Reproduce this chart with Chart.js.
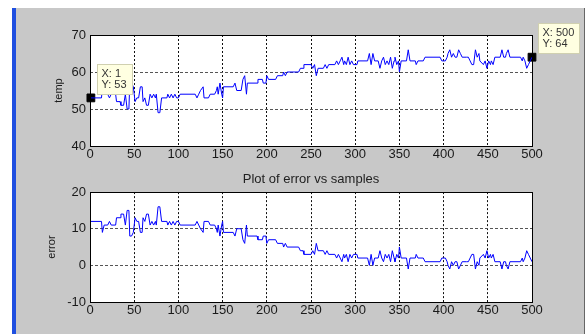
<!DOCTYPE html>
<html>
<head>
<meta charset="utf-8">
<script src="https://cdn.jsdelivr.net/npm/chart.js@4.4.0/dist/chart.umd.min.js"></script>
<style>
  html, body { margin: 0; padding: 0; background: #fff; }
  body { width: 586px; height: 334px; position: relative; overflow: hidden; }
  #figure { position: absolute; left: 16px; top: 8px; width: 568px; height: 326px; background: #c8c8c8; border-right: 1px solid #666; }
  #strip { position: absolute; left: 12px; top: 8px; width: 4px; height: 326px; background: #1f4fe0; }
  canvas { position: absolute; left: 0; }
  #topChart { top: 0; }
  #bottomChart { top: 165px; }
</style>
</head>
<body>
<div id="figure"></div>
<div id="strip"></div>
<canvas id="topChart" width="586" height="165"></canvas>
<canvas id="bottomChart" width="586" height="169"></canvas>
<script>
// MARK: Data
const samples = [
  1, 13, 14, 16, 20, 22, 24, 29, 30, 34,
  35, 38, 40, 42, 44, 45, 47, 49, 51, 53,
  55, 57, 59, 60, 62, 64, 66, 68, 70, 72,
  74, 75, 77, 79, 81, 87, 88, 90, 92, 94,
  96, 98, 100, 102, 119, 121, 123, 125, 128, 129,
  134, 136, 141, 143, 144, 145, 147, 149, 150, 151,
  162, 164, 166, 171, 173, 175, 177, 178, 189, 190,
  195, 196, 199, 200, 202, 210, 212, 218, 219, 221,
  223, 236, 238, 241, 242, 250, 252, 254, 256, 258,
  264, 266, 268, 270, 277, 279, 281, 283, 285, 287,
  288, 290, 292, 294, 296, 298, 302, 303, 314, 316,
  318, 320, 322, 326, 328, 330, 332, 334, 336, 338,
  340, 342, 344, 345, 347, 349, 350, 352, 358, 360,
  362, 368, 369, 371, 377, 379, 396, 398, 402, 404,
  405, 407, 409, 411, 413, 415, 417, 419, 421, 426,
  428, 430, 432, 434, 436, 438, 440, 441, 445, 447,
  449, 451, 453, 454, 456, 458, 464, 466, 468, 470,
  471, 473, 475, 487, 489, 490, 492, 494, 496, 498,
  500
];

const temp = [
  53, 53, 56, 54, 54, 53, 54, 54, 52, 52,
  51, 51, 54, 50, 50, 57, 57, 56, 52, 53,
  53, 56, 56, 52, 53, 51, 51, 54, 53, 54,
  53, 54, 49, 49, 53, 53, 54, 53, 54, 53,
  54, 53, 53, 54, 54, 53, 54, 55, 56, 53,
  53, 54, 54, 55, 56, 54, 57, 54, 53, 56,
  56, 57, 55, 55, 58, 59, 54, 57, 57, 58,
  58, 57, 57, 59, 58, 58, 59, 59, 60, 59,
  60, 60, 61, 61, 62, 62, 61, 62, 59, 61,
  61, 62, 61, 62, 62, 63, 62, 63, 64, 62,
  63, 62, 64, 62, 63, 62, 62, 63, 63, 65,
  62, 65, 63, 63, 61, 63, 64, 62, 63, 62,
  64, 61, 63, 64, 62, 63, 60, 63, 63, 66,
  63, 63, 62, 63, 63, 64, 64, 63, 63, 64,
  65, 66, 64, 65, 64, 64, 66, 65, 64, 64,
  64, 63, 62, 62, 66, 64, 65, 63, 62, 63,
  61, 63, 62, 63, 62, 64, 64, 66, 64, 64,
  65, 66, 64, 64, 63, 64, 63, 61, 62, 63,
  64
];

const error = [
  12, 12, 9, 11, 11, 12, 11, 11, 13, 13,
  14, 14, 11, 15, 15, 8, 8, 9, 13, 12,
  12, 9, 9, 13, 12, 14, 14, 11, 12, 11,
  12, 11, 16, 16, 12, 12, 11, 12, 11, 12,
  11, 12, 12, 11, 11, 12, 11, 10, 9, 12,
  12, 11, 11, 10, 9, 11, 8, 11, 12, 9,
  9, 8, 10, 10, 7, 6, 11, 8, 8, 7,
  7, 8, 8, 6, 7, 7, 6, 6, 5, 6,
  5, 5, 4, 4, 3, 3, 4, 3, 6, 4,
  4, 3, 4, 3, 3, 2, 3, 2, 1, 3,
  2, 3, 1, 3, 2, 3, 3, 2, 2, 0,
  3, 0, 2, 2, 4, 2, 1, 3, 2, 3,
  1, 4, 2, 1, 3, 2, 5, 2, 2, -1,
  2, 2, 3, 2, 2, 1, 1, 2, 2, 1,
  0, -1, 1, 0, 1, 1, -1, 0, 1, 1,
  1, 2, 3, 3, -1, 1, 0, 2, 3, 2,
  4, 2, 3, 2, 3, 1, 1, -1, 1, 1,
  0, -1, 1, 1, 2, 1, 2, 4, 3, 2,
  1
];

const xTicks = [0, 500, 50];        // min, max, step
const tempTicks = [40, 70, 10];
const errorTicks = [-10, 20, 10];

// data tips sit on the first and last sample
const tipIndex = [0, samples.length - 1];

// MARK: Shared look
Chart.defaults.font.family = '"Liberation Sans", Arial, Helvetica, sans-serif';
Chart.defaults.color = '#1a1a1a';

const plotFrame = {
  id: 'plotFrame',
  beforeDraw(chart) {
    const { ctx, chartArea: a } = chart;
    ctx.save();
    ctx.fillStyle = '#fff';
    ctx.fillRect(a.left, a.top, a.right - a.left, a.bottom - a.top);
    ctx.restore();
  },
  afterDraw(chart) {
    const { ctx, chartArea: a } = chart;
    ctx.save();
    ctx.strokeStyle = '#000';
    ctx.lineWidth = 1;
    ctx.strokeRect(Math.round(a.left) + 0.5, Math.round(a.top) + 0.5,
      Math.round(a.right - a.left), Math.round(a.bottom - a.top));
    ctx.restore();
  }
};

const dataTips = {
  id: 'dataTips',
  afterDraw(chart) {
    const { ctx, scales: { x, y } } = chart;
    ctx.save();
    ctx.font = '11px "Liberation Sans", Arial, sans-serif';
    ctx.textBaseline = 'middle';
    tipIndex.forEach(i => {
      const px = x.getPixelForValue(samples[i]);
      const py = y.getPixelForValue(temp[i]);
      const lines = ['X: ' + samples[i], 'Y: ' + temp[i]];
      const w = Math.ceil(Math.max(...lines.map(l => ctx.measureText(l).width))) + 9;
      const h = 30;
      const bx = Math.round(px + 6) + 0.5;
      const by = Math.round(py - 4 - h) + 0.5;
      ctx.fillStyle = '#ffffe1';
      ctx.strokeStyle = '#d0d0b0';
      ctx.fillRect(bx, by, w, h);
      ctx.strokeRect(bx, by, w, h);
      ctx.fillStyle = '#333';
      ctx.fillText(lines[0], bx + 4, by + 9);
      ctx.fillText(lines[1], bx + 4, by + 20);
    });
    ctx.restore();
  }
};

function scalesFor(yTicks, yLabel, labelOffset, xHeight) {
  return {
    x: {
      type: 'linear',
      min: xTicks[0],
      max: xTicks[1],
      ticks: { stepSize: xTicks[2], padding: 1, maxRotation: 0, font: { size: 13 } },
      grid: { color: '#111', drawTicks: false },
      border: { display: false, dash: [2, 2] },
      afterFit(scale) { scale.height = xHeight; }
    },
    y: {
      min: yTicks[0],
      max: yTicks[1],
      ticks: { stepSize: yTicks[2], padding: 4, font: { size: 13 } },
      grid: { color: '#555', drawTicks: false },
      border: { display: false, dash: [3, 2] },
      title: {
        display: true,
        text: yLabel,
        font: { size: 11 },
        padding: { top: labelOffset, bottom: 0 }
      },
      afterFit(scale) { scale.width = 90; }
    }
  };
}

// MARK: Top plot (temp)
new Chart(document.getElementById('topChart'), {
  type: 'line',
  data: {
    datasets: [
      {
        data: samples.map((s, i) => ({ x: s, y: temp[i] })),
        borderColor: '#0000ff',
        borderWidth: 1,
        pointRadius: 0,
        tension: 0
      },
      {
        data: tipIndex.map(i => ({ x: samples[i], y: temp[i] })),
        showLine: false,
        pointStyle: 'rect',
        pointRadius: 5.5,
        backgroundColor: '#000',
        borderColor: '#000',
        borderWidth: 1,
        clip: false
      }
    ]
  },
  options: {
    responsive: false,
    animation: false,
    events: [],
    layout: { padding: { top: 35, right: 54, left: 0, bottom: 0 } },
    plugins: { legend: { display: false }, tooltip: { enabled: false } },
    scales: scalesFor(tempTicks, 'temp', 52, 19)
  },
  plugins: [plotFrame, dataTips]
});

// MARK: Bottom plot (error)
new Chart(document.getElementById('bottomChart'), {
  type: 'line',
  data: {
    datasets: [
      {
        data: samples.map((s, i) => ({ x: s, y: error[i] })),
        borderColor: '#0000ff',
        borderWidth: 1,
        pointRadius: 0,
        tension: 0
      }
    ]
  },
  options: {
    responsive: false,
    animation: false,
    events: [],
    layout: { padding: { top: 0, right: 54, left: 0, bottom: 0 } },
    plugins: {
      legend: { display: false },
      tooltip: { enabled: false },
      title: {
        display: true,
        text: 'Plot of error vs samples',
        fullSize: false,
        color: '#222',
        font: { size: 13, weight: 'normal' },
        padding: { top: 7, bottom: 4.5 }
      }
    },
    scales: scalesFor(errorTicks, 'error', 45, 32)
  },
  plugins: [plotFrame]
});
</script>
</body>
</html>
